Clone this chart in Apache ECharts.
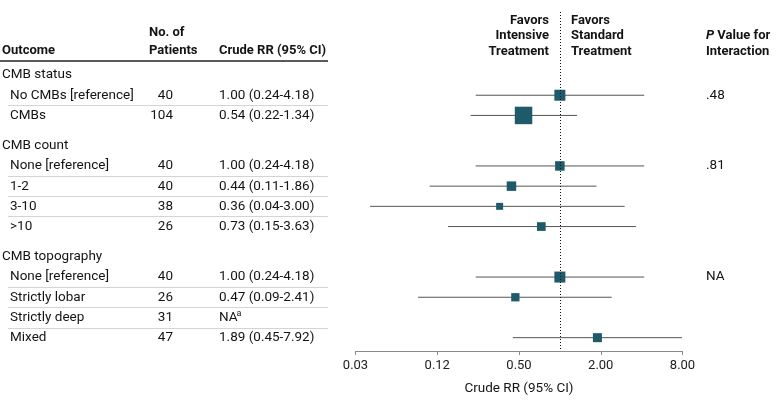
<!DOCTYPE html>
<html><head><meta charset="utf-8">
<script src="https://cdn.jsdelivr.net/npm/echarts@6/dist/echarts.min.js"></script>
<style>html,body{margin:0;padding:0;background:#fff}#main{width:783px;height:405px}</style>
</head><body><div id="main"></div>
<script>
// ---------- data ----------
const groups = ['CMB status', 'CMB count', 'CMB topography'];
const outcomes = ['No CMBs [reference]', 'CMBs', 'None [reference]', '1-2', '3-10', '>10', 'None [reference]', 'Strictly lobar', 'Strictly deep', 'Mixed'];
const outcomeGroup = [0, 0, 1, 1, 1, 1, 2, 2, 2, 2];
const patients = [40, 104, 40, 40, 38, 26, 40, 26, 31, 47];
const rr = [1.00, 0.54, 1.00, 0.44, 0.36, 0.73, 1.00, 0.47, null, 1.89];
const ciLow = [0.24, 0.22, 0.24, 0.11, 0.04, 0.15, 0.24, 0.09, null, 0.45];
const ciHigh = [4.18, 1.34, 4.18, 1.86, 3.00, 3.63, 4.18, 2.41, null, 7.92];
const pInteraction = ['.48', '.81', 'NA'];
const tickValues = [0.03125, 0.125, 0.5, 2, 8];
const tickLabels = ['0.03', '0.12', '0.50', '2.00', '8.00'];
const refValue = 1;

// ---------- style ----------
const markerSize = [11, 17.5, 9.5, 9.5, 7, 8.7, 11, 8.3, 0, 9];
const FONT = 'Roboto, sans-serif';
const TXT = '#141414';
const BODY_FS = 13.5;
const HEAD_FS = 13;
const SQUARE = '#1f5a6b';
const CI_LINE = '#555555';

// ---------- row layout (group headers get an extra half row gap) ----------
const rows = [];
let pos = 0;
groups.forEach((g, gi) => {
  if (gi > 0) pos += 1.5;
  rows.push({ kind: 'group', label: g, pos: pos });
  const idx = outcomeGroup.map((v, i) => v === gi ? i : -1).filter(i => i >= 0);
  idx.forEach((i, k) => {
    pos += 1;
    rows.push({ kind: 'item', i: i, pos: pos, first: k === 0, last: k === idx.length - 1, group: gi });
  });
});
const yMin = -3.12, yMax = 13.66;

function fmtRR(i) {
  if (rr[i] == null) return null;
  return rr[i].toFixed(2) + ' (' + ciLow[i].toFixed(2) + '-' + ciHigh[i].toFixed(2) + ')';
}

const tableData = rows.map((r, k) => [0, r.pos, k]);
const forestData = [];
outcomes.forEach((o, i) => {
  if (rr[i] == null) return;
  const r = rows.find(x => x.kind === 'item' && x.i === i);
  forestData.push([rr[i], ciLow[i], ciHigh[i], r.pos, markerSize[i]]);
});

function txt(x, y, text, opt) {
  return {
    type: 'text', x: x, y: y,
    style: Object.assign({ text: text, fill: TXT, font: BODY_FS + 'px ' + FONT, align: 'left', verticalAlign: 'middle' }, opt || {})
  };
}

const chart = echarts.init(document.getElementById('main'), null, { renderer: 'canvas' });

function headText(x, y, text, align, extra) {
  return {
    type: 'text', x: x, y: y, silent: true,
    style: Object.assign({ text: text, fill: TXT, font: 'bold ' + HEAD_FS + 'px ' + FONT, align: align || 'left', verticalAlign: 'middle' }, extra || {})
  };
}

const option = {
  animation: false,
  backgroundColor: '#fff',
  textStyle: { fontFamily: FONT },
  grid: [
    { left: 0, right: 0, top: 12, bottom: 54 },
    { left: 355.5, right: 100.5, top: 12, bottom: 54 }
  ],
  xAxis: [
    { gridIndex: 0, type: 'value', min: 0, max: 783, show: false },
    {
      gridIndex: 1, type: 'log', logBase: 2, position: 'bottom',
      min: tickValues[0], max: tickValues[tickValues.length - 1],
      splitLine: { show: false },
      axisLine: { show: true, onZero: false, lineStyle: { color: '#8a8a8a', width: 1 } },
      axisTick: { show: true, customValues: tickValues, length: 4, inside: false, lineStyle: { color: '#8a8a8a' } },
      axisLabel: {
        customValues: tickValues, color: '#222', fontSize: 13, fontFamily: FONT, margin: 8,
        formatter: function (v) {
          let best = 0;
          tickValues.forEach((t, k) => { if (Math.abs(Math.log(t) - Math.log(v)) < Math.abs(Math.log(tickValues[best]) - Math.log(v))) best = k; });
          return tickLabels[best];
        }
      },
      name: 'Crude RR (95% CI)', nameLocation: 'middle', nameGap: 31,
      nameTextStyle: { fontSize: 13.5, color: TXT, fontFamily: FONT }
    }
  ],
  yAxis: [
    { gridIndex: 0, type: 'value', min: yMin, max: yMax, inverse: true, show: false },
    { gridIndex: 1, type: 'value', min: yMin, max: yMax, inverse: true, show: false }
  ],
  graphic: [
    headText(2, 51, 'Outcome'),
    headText(149, 33, 'No. of'),
    headText(149, 51, 'Patients'),
    headText(219, 51, 'Crude RR (95% CI)'),
    headText(549, 20.5, 'Favors', 'right'),
    headText(549, 36, 'Intensive', 'right'),
    headText(549, 51.5, 'Treatment', 'right'),
    headText(571, 20.5, 'Favors'),
    headText(571, 36, 'Standard'),
    headText(571, 51.5, 'Treatment'),
    headText(706, 36, '{i|P} Value for', 'left', { rich: { i: { fontStyle: 'italic', fontWeight: 'bold', fontSize: HEAD_FS, fontFamily: FONT, fill: TXT } } }),
    headText(706, 51.5, 'Interaction'),
    { type: 'line', silent: true, shape: { x1: 0, y1: 61, x2: 328, y2: 61 }, style: { stroke: '#222', lineWidth: 1.5 } }
  ],
  series: [
    {
      type: 'custom', xAxisIndex: 0, yAxisIndex: 0, silent: true,
      data: tableData,
      encode: { x: 0, y: 1 },
      renderItem: function (params, api) {
        const r = rows[api.value(2)];
        const y = api.coord([0, r.pos])[1];
        const children = [];
        if (r.kind === 'group') {
          children.push(txt(2, y, r.label));
        } else {
          const i = r.i;
          children.push(txt(10, y, outcomes[i]));
          children.push(txt(173, y, String(patients[i]), { align: 'right' }));
          const s = fmtRR(i);
          if (s) {
            children.push(txt(219, y, s));
          } else {
            children.push(txt(219, y, 'NA'));
            children.push(txt(236.5, y - 4, 'a', { font: '9px ' + FONT }));
          }
          if (r.first) children.push(txt(706, y, pInteraction[r.group]));
          if (!r.last) {
            const ly = Math.round(api.coord([0, r.pos + 0.5])[1]) + 0.5;
            children.push({ type: 'line', shape: { x1: 8, y1: ly, x2: 328, y2: ly }, style: { stroke: '#d4d4d4', lineWidth: 1 } });
          }
        }
        return { type: 'group', children: children };
      }
    },
    {
      type: 'custom', xAxisIndex: 1, yAxisIndex: 1, silent: true, z: 3,
      data: forestData,
      encode: { x: [0, 1, 2], y: 3 },
      renderItem: function (params, api) {
        const yv = api.value(3);
        const c = api.coord([api.value(0), yv]);
        const lo = api.coord([api.value(1), yv]);
        const hi = api.coord([api.value(2), yv]);
        const s = api.value(4);
        return {
          type: 'group', children: [
            { type: 'line', shape: { x1: lo[0], y1: c[1], x2: hi[0], y2: c[1] }, style: { stroke: CI_LINE, lineWidth: 1 } },
            { type: 'rect', shape: { x: c[0] - s / 2, y: c[1] - s / 2, width: s, height: s }, style: { fill: SQUARE } }
          ]
        };
      }
    },
    {
      type: 'line', xAxisIndex: 1, yAxisIndex: 1, data: [], z: 10, silent: true,
      markLine: {
        silent: true, symbol: ['none', 'none'], label: { show: false },
        lineStyle: { type: [1, 2], color: '#111', width: 1 },
        data: [{ xAxis: refValue }]
      }
    }
  ]
};
chart.setOption(option);
</script></body></html>
